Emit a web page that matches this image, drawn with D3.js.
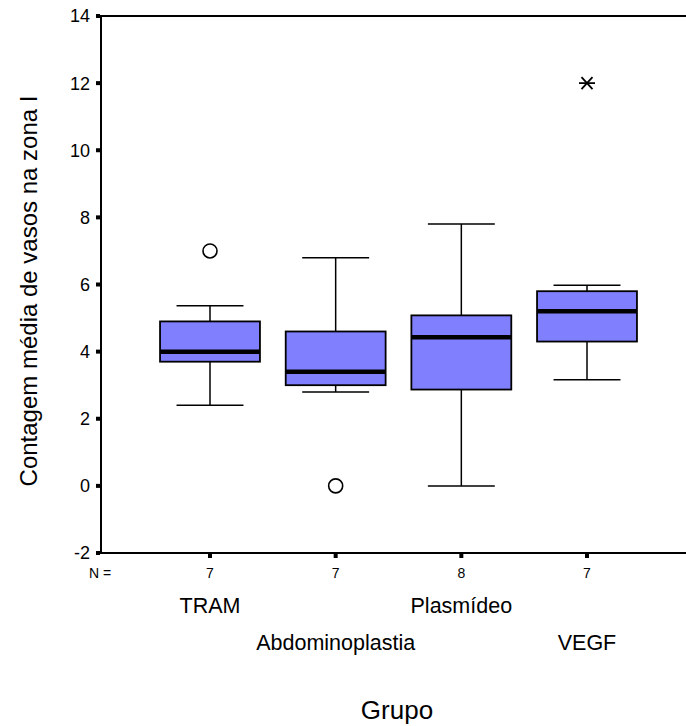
<!DOCTYPE html>
<html>
<head>
<meta charset="utf-8">
<script src="https://cdn.jsdelivr.net/npm/d3@7"></script>
<style>
  html, body { margin: 0; padding: 0; background: #fff; }
  svg { display: block; }
  text { font-family: Arial, "Liberation Sans", sans-serif; fill: #000; }
</style>
</head>
<body>
<svg id="chart" width="686" height="726"></svg>
<script>
const categories = ["TRAM", "Abdominoplastia", "Plasmídeo", "VEGF"];
const counts = [7, 7, 8, 7];
const q1 = [3.7, 3.0, 2.87, 4.3];
const medians = [4.0, 3.4, 4.43, 5.2];
const q3 = [4.9, 4.6, 5.08, 5.8];
const whiskerLow = [2.4, 2.8, 0, 3.16];
const whiskerHigh = [5.37, 6.8, 7.8, 5.98];
const outliers = [[7], [0], [], []];
const extremes = [[], [], [], [12]];
const yTicks = [-2, 0, 2, 4, 6, 8, 10, 12, 14];
const yTitle = "Contagem média de vasos na zona I";
const xTitle = "Grupo";

(function () {
const svg = d3.select("#chart");
const pLeft = 101, pRight = 686, pTop = 16, pBottom = 553;

const y = d3.scaleLinear().domain([-2, 14]).range([pBottom, pTop]);
const x = d3.scalePoint().domain(categories).range([210, 587]);
const boxW = x.step() * 0.795;
const capW = boxW * 0.67;

// frame
svg.append("line").attr("x1", pLeft).attr("x2", pRight).attr("y1", pTop).attr("y2", pTop)
  .attr("stroke", "#000").attr("stroke-width", 2);
svg.append("line").attr("x1", pLeft).attr("x2", pLeft).attr("y1", pTop - 1).attr("y2", pBottom + 1)
  .attr("stroke", "#000").attr("stroke-width", 2);
svg.append("line").attr("x1", pLeft - 1).attr("x2", pRight).attr("y1", pBottom).attr("y2", pBottom)
  .attr("stroke", "#000").attr("stroke-width", 2);

// y axis ticks
const yAxis = svg.append("g");
yTicks.forEach(t => {
  yAxis.append("rect").attr("x", pLeft - 5).attr("y", y(t) - 2).attr("width", 4).attr("height", 4).attr("fill", "#000");
  yAxis.append("text").attr("x", 90).attr("y", y(t)).attr("dy", "0.36em")
    .attr("text-anchor", "end").attr("font-size", 18).text(String(t));
});

// x ticks and N labels
svg.append("text").attr("x", 100).attr("y", 578).attr("text-anchor", "middle").attr("font-size", 14).text("N =");
categories.forEach((c, i) => {
  const cx = x(c);
  svg.append("rect").attr("x", cx - 2).attr("y", pBottom + 1).attr("width", 4).attr("height", 4).attr("fill", "#000");
  svg.append("text").attr("x", cx).attr("y", 578).attr("text-anchor", "middle").attr("font-size", 14).text(counts[i]);
  svg.append("text").attr("x", cx).attr("y", i % 2 === 0 ? 613 : 650).attr("text-anchor", "middle")
    .attr("font-size", 21.5).text(c);
});

// boxes
const g = svg.append("g");
categories.forEach((c, i) => {
  const cx = x(c);
  g.append("line").attr("x1", cx).attr("x2", cx).attr("y1", y(whiskerHigh[i])).attr("y2", y(q3[i]))
    .attr("stroke", "#000").attr("stroke-width", 1.5);
  g.append("line").attr("x1", cx).attr("x2", cx).attr("y1", y(q1[i])).attr("y2", y(whiskerLow[i]))
    .attr("stroke", "#000").attr("stroke-width", 1.5);
  g.append("line").attr("x1", cx - capW / 2).attr("x2", cx + capW / 2).attr("y1", y(whiskerHigh[i])).attr("y2", y(whiskerHigh[i]))
    .attr("stroke", "#000").attr("stroke-width", 1.5);
  g.append("line").attr("x1", cx - capW / 2).attr("x2", cx + capW / 2).attr("y1", y(whiskerLow[i])).attr("y2", y(whiskerLow[i]))
    .attr("stroke", "#000").attr("stroke-width", 1.5);
  g.append("rect").attr("x", cx - boxW / 2).attr("y", y(q3[i])).attr("width", boxW)
    .attr("height", y(q1[i]) - y(q3[i])).attr("fill", "#8080FF").attr("stroke", "#000").attr("stroke-width", 1.8);
  g.append("line").attr("x1", cx - boxW / 2).attr("x2", cx + boxW / 2).attr("y1", y(medians[i])).attr("y2", y(medians[i]))
    .attr("stroke", "#000").attr("stroke-width", 4.5);
  outliers[i].forEach(v => {
    g.append("circle").attr("cx", cx).attr("cy", y(v)).attr("r", 7)
      .attr("fill", "none").attr("stroke", "#000").attr("stroke-width", 1.6);
  });
  extremes[i].forEach(v => {
    const py = y(v);
    const s = g.append("g").attr("stroke", "#000").attr("stroke-width", 1.8);
    s.append("line").attr("x1", cx - 8).attr("x2", cx + 8).attr("y1", py).attr("y2", py);
    s.append("line").attr("x1", cx - 5.5).attr("x2", cx + 5.5).attr("y1", py - 6).attr("y2", py + 6);
    s.append("line").attr("x1", cx - 5.5).attr("x2", cx + 5.5).attr("y1", py + 6).attr("y2", py - 6);
  });
});

// titles
svg.append("text").attr("transform", "translate(37,291) rotate(-90)").attr("text-anchor", "middle")
  .attr("font-size", 24).text(yTitle);
svg.append("text").attr("x", 397).attr("y", 719).attr("text-anchor", "middle")
  .attr("font-size", 26).text(xTitle);
})();
</script>
</body>
</html>
